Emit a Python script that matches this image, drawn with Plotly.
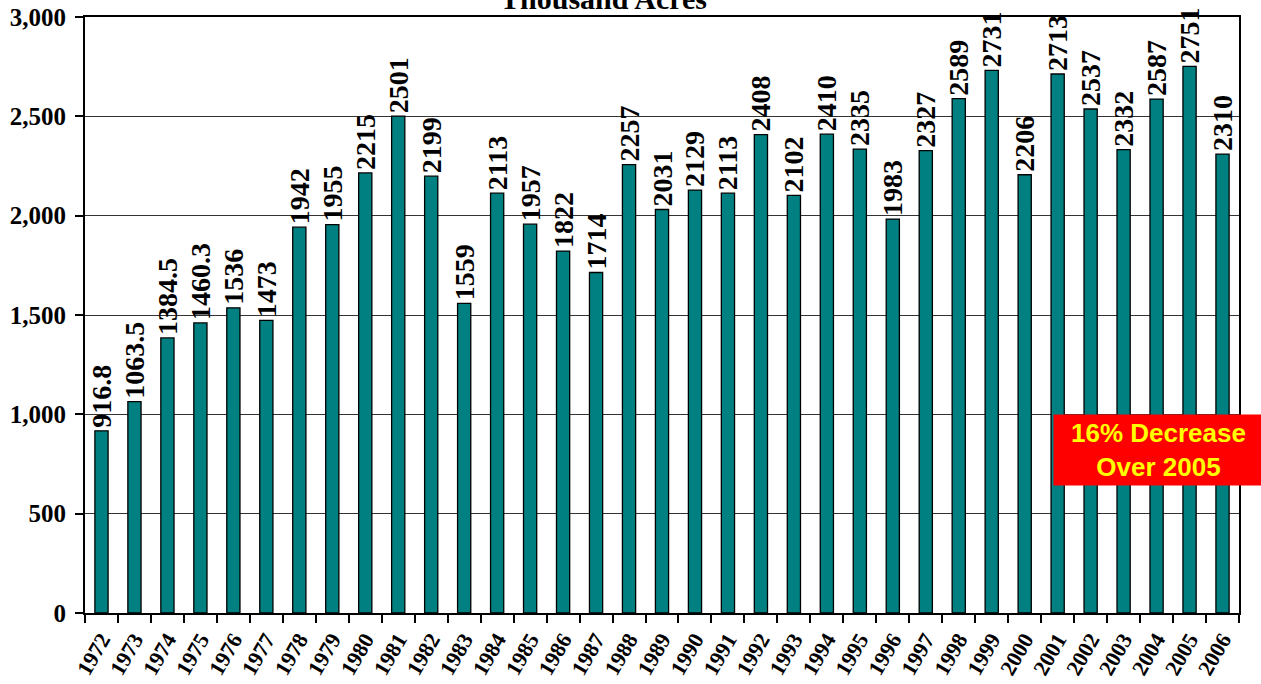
import plotly.graph_objects as go

years = [str(y) for y in range(1972, 2007)]
acres = [916.8, 1063.5, 1384.5, 1460.3, 1536, 1473, 1942, 1955, 2215, 2501,
         2199, 1559, 2113, 1957, 1822, 1714, 2257, 2031, 2129, 2113,
         2408, 2102, 2410, 2335, 1983, 2327, 2589, 2731, 2206, 2713,
         2537, 2332, 2587, 2751, 2310]
labels = [f"{v:g}" for v in acres]
title_text = "Thousand Acres"
note_text = "16% Decrease<br>Over 2005"

W, H = 1261, 684
pw, ph = 1154, 596
L, T = 85, 17
R = W - L - pw
B = H - T - ph

fig = go.Figure(go.Bar(
    x=years, y=acres, text=labels, textposition="outside", textangle=-90,
    constraintext="none", cliponaxis=False,
    textfont=dict(family="Liberation Serif", size=28, color="black", weight="bold"),
    marker=dict(color="#008080", line=dict(color="black", width=1.3)),
))

fig.update_layout(
    width=W, height=H, margin=dict(l=L, r=R, t=T, b=B, autoexpand=False),
    plot_bgcolor="white", paper_bgcolor="white", showlegend=False,
    bargap=0.6,
    font=dict(family="Liberation Serif", color="black"),
)
fig.update_xaxes(
    type="category", tickson="boundaries", ticks="outside", ticklen=8,
    tickwidth=1.5, tickcolor="black", tickangle=-60, automargin=False,
    ticklabeloverflow="allow", ticklabelstandoff=3,
    tickfont=dict(family="Liberation Serif", size=22, color="black", weight="bold"),
    showline=True, linecolor="black", linewidth=2, mirror=True, showgrid=False,
)
fig.update_yaxes(
    range=[0, 3000], dtick=500, tickformat=",", ticks="outside", ticklen=8,
    tickwidth=1.5, tickcolor="black", automargin=False,
    ticklabeloverflow="allow", ticklabelstandoff=4,
    tickfont=dict(family="Liberation Serif", size=25, color="black", weight="bold"),
    showline=True, linecolor="black", linewidth=2, mirror=True,
    showgrid=True, gridcolor="#333333", gridwidth=1, zeroline=False,
)

fig.add_annotation(
    text=title_text, xref="paper", yref="paper",
    x=(603 - L) / pw, y=1 + 18 / ph, xanchor="center", yanchor="middle",
    showarrow=False, font=dict(family="Liberation Serif", size=30, color="black", weight="bold"),
)
fig.add_annotation(
    text=note_text, xref="paper", yref="paper",
    x=(1158.5 - L) / pw, y=(613 - 450) / ph, xanchor="center", yanchor="middle",
    showarrow=False, bgcolor="#FF0000", width=201, height=62, borderpad=4,
    font=dict(family="Liberation Sans", size=26, color="#FFFF00", weight="bold"),
)

fig.write_html("out.html", config={"displayModeBar": False},
               post_script="document.body.style.margin='0px';")
